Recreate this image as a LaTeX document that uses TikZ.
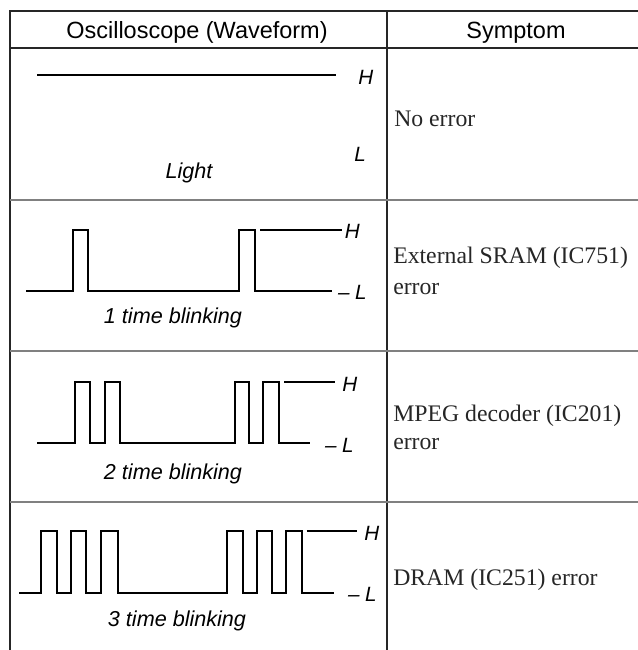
\documentclass[tikz,border=0pt]{standalone}
\usepackage{fontspec}
\setmainfont{Liberation Serif}
\setsansfont{Liberation Sans}
\begin{document}
\begin{tikzpicture}[x=0.75pt,y=-0.75pt,
  frame/.style={line width=1.5pt,draw=black!85},
  sep/.style={line width=1.1pt,draw=black!50},
  divider/.style={line width=0.9pt,draw=black!85},
  wave/.style={line width=1.5pt,line join=miter,draw=black},
  refline/.style={line width=0.8pt,draw=black},
  head/.style={font=\sffamily\fontsize{17.6}{20}\selectfont,inner sep=0pt,anchor=base},
  sym/.style={font=\rmfamily\fontsize{17.8}{21}\selectfont,inner sep=0pt,anchor=base west,text=black!85},
  blink/.style={font=\sffamily\itshape\fontsize{16.2}{19}\selectfont,inner sep=0pt,anchor=base},
  lvl/.style={font=\sffamily\itshape\fontsize{15.5}{18}\selectfont,inner sep=0pt,anchor=base west}]
\useasboundingbox (0,0) rectangle (638,650);
% table frame
\draw[frame] (10,11) -- (640,11);
\draw[frame] (10,48) -- (640,48);
\draw[line width=1.9pt,draw=black!85] (10,10) -- (10,652);
\draw[divider] (387,11) -- (387,652);
\draw[sep] (10,200) -- (640,200);
\draw[sep] (10,351) -- (640,351);
\draw[sep] (10,502) -- (640,502);
% header
\node[head] (h1) at (197,38) {Oscilloscope (Waveform)};
\node[head] (h2) at (516,38) {Symptom};
% row 1
\draw[wave] (37,75) -- (336,75);
\node[lvl] (r1H) at (358,84.5) {H};
\node[lvl] (r1L) at (354,161.5) {L};
\node[blink] (r1t) at (189,178) {Light};
\node[sym] (r1s) at (394,126) {No error};
% row 2
\draw[wave] (26,291) -- (72.5,291) -- (72.5,230) -- (88,230) -- (88,291) -- (239,291) -- (239,230) -- (255,230) -- (255,291) -- (332,291);
\draw[refline] (260,230) -- (342,230);
\node[lvl] (r2H) at (344.5,238.5) {H};
\node[lvl,anchor=base east] (r2L) at (367,299) {– L};
\node[blink] (r2t) at (173,323) {1 time blinking};
\node[sym] (r2s) at (393,263) {External SRAM (IC751)};
\node[sym] (r2e) at (393,294) {error};
% row 3
\draw[wave] (37,443) -- (75,443) -- (75,382) -- (89.6,382) -- (89.6,443) -- (104.7,443) -- (104.7,382) -- (120,382) -- (120,443) -- (234.7,443) -- (234.7,382) -- (249,382) -- (249,443) -- (263,443) -- (263,382) -- (278.5,382) -- (278.5,443) -- (310,443);
\draw[refline] (284,382) -- (335,382);
\node[lvl] (r3H) at (342,391) {H};
\node[lvl,anchor=base east] (r3L) at (354,452) {– L};
\node[blink] (r3t) at (173,479) {2 time blinking};
\node[sym] (r3s) at (393,421) {MPEG decoder (IC201)};
\node[sym] (r3e) at (393,449) {error};
% row 4
\draw[wave] (19,593) -- (41,593) -- (41,531) -- (56.7,531) -- (56.7,593) -- (71,593) -- (71,531) -- (86.4,531) -- (86.4,593) -- (101.4,593) -- (101.4,531) -- (117.7,531) -- (117.7,593) -- (227.3,593) -- (227.3,531) -- (242.8,531) -- (242.8,593) -- (257,593) -- (257,531) -- (272,531) -- (272,593) -- (286.3,593) -- (286.3,531) -- (301.7,531) -- (301.7,593) -- (334,593);
\draw[refline] (306.5,531) -- (356.5,531);
\node[lvl] (r4H) at (364,540) {H};
\node[lvl,anchor=base east] (r4L) at (377,601) {– L};
\node[blink] (r4t) at (177,626) {3 time blinking};
\node[sym] (r4s) at (393,585) {DRAM (IC251) error};
\end{tikzpicture}
\end{document}
